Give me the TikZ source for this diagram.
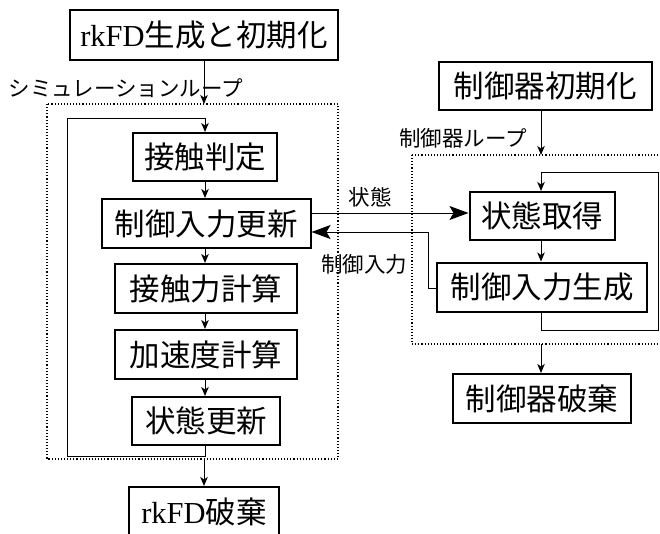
\documentclass[tikz,border=0pt]{standalone}
\usepackage{fontspec}
\setmainfont{Noto Sans CJK JP}
\newfontfamily\lat{Liberation Serif}
\usetikzlibrary{arrows.meta,calc}
\tikzset{
  box/.style={draw, line width=2pt, inner sep=0pt, align=center,
    font=\fontsize{30.5}{30.5}\selectfont},
  lbl/.style={inner sep=0pt, font=\fontsize{21.5}{21.5}\selectfont},
  conn/.style={line width=1pt},
  arr/.style={conn, -{Stealth[length=9pt,width=7.5pt,inset=2.5pt]}},
  bigarr/.style={conn, -{Stealth[length=19pt,width=14pt,inset=4pt]}},
  loopframe/.style={dotted, line width=1.1pt}
}
\begin{document}
\begin{tikzpicture}[x=1pt,y=-1pt]
\useasboundingbox (0,0) rectangle (660,533);
\clip (0,0) rectangle (660,533);
% left column
\node[box, minimum width=268pt, minimum height=50pt] (init) at (204,35) {{\lat rkFD}生成と初期化};
\node[box, minimum width=144pt, minimum height=48pt] (hantei) at (205,157) {接触判定};
\node[box, minimum width=209pt, minimum height=49pt] (update) at (206,223.5) {制御入力更新};
\node[box, minimum width=182pt, minimum height=49pt] (force) at (206,288.5) {接触力計算};
\node[box, minimum width=182pt, minimum height=49pt] (accel) at (206,354.5) {加速度計算};
\node[box, minimum width=148pt, minimum height=48pt] (stupd) at (206,421) {状態更新};
\node[box, minimum width=150pt, minimum height=49pt] (destroy) at (204,511.5) {{\lat rkFD}破棄};
% sim loop frame
\draw[loopframe] (47,104) rectangle (338,459);
\coordinate (simtop) at (204,104);
\coordinate (simbot) at (204,459);
\node[lbl] (simlbl) at (126,88) {シミュレーションループ};
% right column
\node[box, minimum width=213pt, minimum height=48pt] (cinit) at (545,86) {制御器初期化};
\node[box, minimum width=145pt, minimum height=48pt] (get) at (542,216) {状態取得};
\node[box, minimum width=210pt, minimum height=49pt] (gen) at (542,287) {制御入力生成};
\node[box, minimum width=178pt, minimum height=49pt] (cdestroy) at (542,398.5) {制御器破棄};
\draw[loopframe] (412,155) rectangle (670,344);
\coordinate (ctop) at (541,155);
\coordinate (cbot) at (541,344);
\node[lbl] (clbl) at (463,138) {制御器ループ};
% left arrows
\draw[arr] (init.south -| simtop) -- (simtop);
\draw[arr] (hantei.south) -- (update.north -| hantei.south);
\draw[arr] (update.south -| hantei.south) -- (force.north -| hantei.south);
\draw[arr] (force.south -| hantei.south) -- (accel.north -| hantei.south);
\draw[arr] (accel.south -| hantei.south) -- (stupd.north -| hantei.south);
\draw[arr] (simbot) -- (destroy.north -| simbot);
\coordinate (lpl) at (67,118);
\draw[arr] (stupd.south -| hantei.south) -- ++(0,10) -| (lpl) -| (hantei.north);
% right arrows
\draw[arr] (cinit.south -| ctop) -- (ctop);
\draw[arr] (get.south -| ctop) -- (gen.north -| ctop);
\draw[arr] (cbot) -- (cdestroy.north -| cbot);
\coordinate (lpr) at (658,172);
\draw[arr] (gen.south -| ctop) -- (541,330) -| (lpr) -| (get.north -| ctop);
% exchange arrows
\draw[bigarr] (update.east |- 0,213) -- (get.west |- 0,213);
\node[lbl] (lstate) at (370,197) {状態};
\coordinate (bend) at (428,232);
\draw[bigarr] (gen.west |- 0,288) -| (bend) -- (update.east |- bend);
\node[lbl] (linput) at (364,264) {制御入力};
\end{tikzpicture}
\end{document}
